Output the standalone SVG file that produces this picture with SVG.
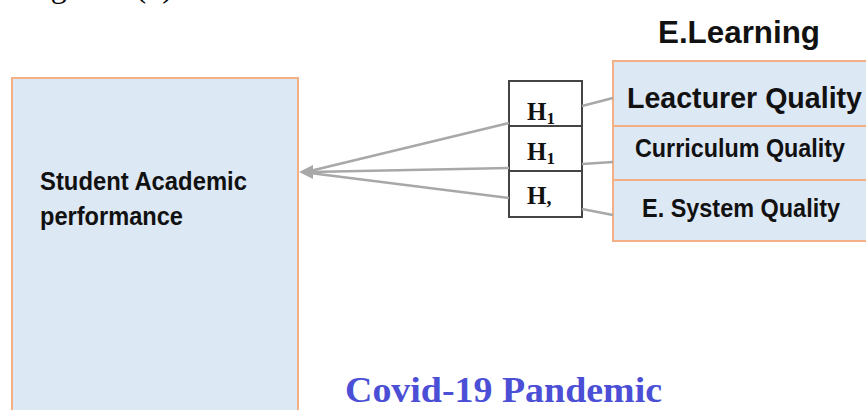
<svg xmlns="http://www.w3.org/2000/svg" width="866" height="410" viewBox="0 0 866 410">
<defs>
<style>
.box{fill:#dde8f5;stroke:#f4b084;stroke-width:2}
.hb{fill:#fff;stroke:#444;stroke-width:2}
.lbl{font-family:"Liberation Sans",Arial,sans-serif;font-weight:bold;fill:#111}
.h{font-family:"Liberation Serif","Times New Roman",serif;font-weight:bold;font-size:25px;fill:#111}
.con{stroke:#a8a8a8;stroke-width:2.5;fill:none}
</style>
</defs>
<rect width="866" height="410" fill="#fff"/>
<text x="24" y="-3" font-family="'Liberation Serif','Times New Roman',serif" font-size="32" word-spacing="20" fill="#000">Figure (1)</text>
<g id="student">
<rect class="box" x="12" y="78" width="286" height="345"/>
<text class="lbl" x="40" y="190" font-size="26" textLength="207" lengthAdjust="spacingAndGlyphs">Student Academic</text>
<text class="lbl" x="40" y="225" font-size="26" textLength="143" lengthAdjust="spacingAndGlyphs">performance</text>
</g>
<g id="elearning">
<text class="lbl" x="658" y="43" font-size="31" textLength="162" lengthAdjust="spacingAndGlyphs">E.Learning</text>
<rect class="box" x="613" y="61" width="270" height="65"/>
<text class="lbl" x="627" y="108" font-size="30" textLength="235" lengthAdjust="spacingAndGlyphs">Leacturer Quality</text>
<rect class="box" x="613" y="126" width="270" height="54"/>
<text class="lbl" x="635" y="157" font-size="26" textLength="210" lengthAdjust="spacingAndGlyphs">Curriculum Quality</text>
<rect class="box" x="613" y="180" width="270" height="61"/>
<text class="lbl" x="642" y="217" font-size="26" textLength="198" lengthAdjust="spacingAndGlyphs">E. System Quality</text>
</g>
<g id="hypotheses">
<rect class="hb" x="509" y="81" width="73" height="45"/>
<rect class="hb" x="509" y="126" width="73" height="45"/>
<rect class="hb" x="509" y="171" width="73" height="46"/>
<text class="h" x="527" y="120">H<tspan font-size="17" dy="4">1</tspan></text>
<text class="h" x="527" y="160">H<tspan font-size="17" dy="4">1</tspan></text>
<text class="h" x="527" y="204">H<tspan font-size="20" dy="0">,</tspan></text>
</g>
<g id="connectors">
<line class="con" x1="509" y1="123" x2="310" y2="171"/>
<line class="con" x1="509" y1="168" x2="310" y2="172"/>
<line class="con" x1="509" y1="198" x2="310" y2="173"/>
<path d="M299,172 L313,165 L313,179 Z" fill="#a8a8a8"/>
<line class="con" x1="582" y1="106" x2="613" y2="98"/>
<line class="con" x1="582" y1="164" x2="613" y2="162"/>
<line class="con" x1="582" y1="209" x2="613" y2="215"/>
</g>
<text x="345" y="402" font-family="'Liberation Serif','Times New Roman',serif" font-weight="bold" font-size="35" fill="#4b4fd6" textLength="317" lengthAdjust="spacingAndGlyphs">Covid-19 Pandemic</text>
</svg>
